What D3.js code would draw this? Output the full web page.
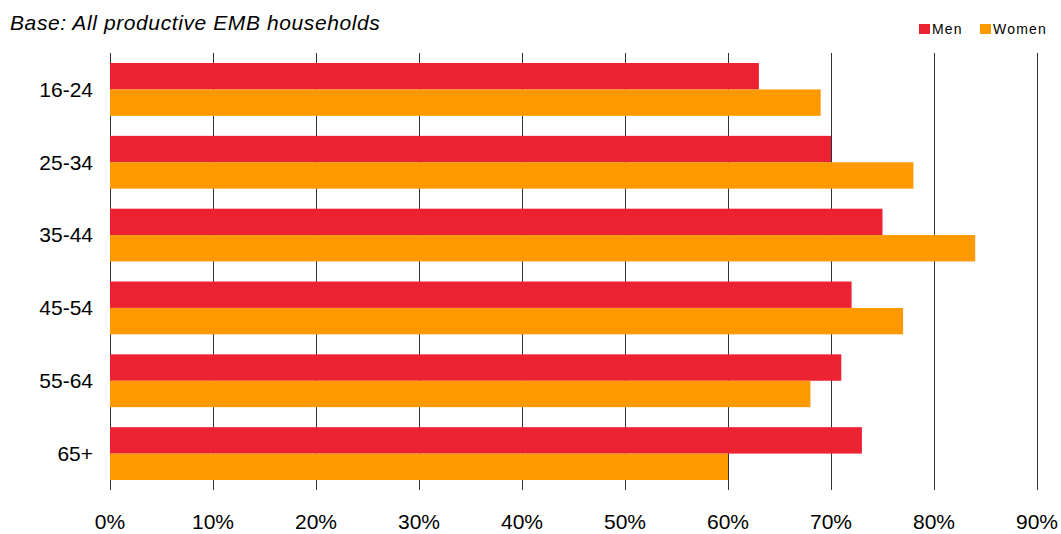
<!DOCTYPE html>
<html>
<head>
<meta charset="utf-8">
<style>
  body { margin: 0; background: #fff; }
  text { font-family: "Liberation Sans", Arial, sans-serif; fill: #000; }
</style>
</head>
<body>
<script src="https://d3js.org/d3.v7.min.js"></script>
<script>
  // data
  var ageGroups = ["16-24", "25-34", "35-44", "45-54", "55-64", "65+"];
  var menValues = [63, 70, 75, 72, 71, 73];
  var womenValues = [69, 78, 84, 77, 68, 60];
  var seriesNames = ["Men", "Women"];
  var xTicks = [0, 10, 20, 30, 40, 50, 60, 70, 80, 90];

  var colors = {"Men": "#ec2233", "Women": "#ff9900"};

  var W = 1061, H = 534;
  var margin = {top: 53, right: 24, bottom: 44, left: 110},
      width = 1037 - margin.left,
      height = 490 - margin.top;

  var svg = d3.select("body")
    .append("svg")
    .attr("width", W)
    .attr("height", H);

  var g = svg.append("g")
    .attr("transform", "translate(" + margin.left + "," + margin.top + ")");

  var x = d3.scaleLinear().domain([0, 90]).range([0, width]);

  var y0 = d3.scaleBand()
    .domain(ageGroups)
    .range([0, height])
    .paddingInner(0.275)
    .paddingOuter(0.1375);

  var y1 = d3.scaleBand()
    .domain(seriesNames)
    .range([0, y0.bandwidth()]);

  // gridlines
  g.append("g")
    .selectAll("line")
    .data(xTicks)
    .enter()
    .append("line")
      .attr("x1", function(d) { return Math.round(x(d)) + 0.5; })
      .attr("x2", function(d) { return Math.round(x(d)) + 0.5; })
      .attr("y1", 0)
      .attr("y2", height)
      .attr("stroke", "#333")
      .attr("stroke-width", 1);

  var rows = ageGroups.map(function(a, i) {
    return {age: a, vals: [
      {name: "Men", v: menValues[i]},
      {name: "Women", v: womenValues[i]}
    ]};
  });

  var groups = g.append("g")
    .selectAll("g")
    .data(rows)
    .enter()
    .append("g")
      .attr("transform", function(d) { return "translate(0," + y0(d.age) + ")"; });

  groups.selectAll("rect")
    .data(function(d) { return d.vals; })
    .enter()
    .append("rect")
      .attr("x", 0)
      .attr("y", function(d) { return y1(d.name); })
      .attr("width", function(d) { return x(d.v); })
      .attr("height", y1.bandwidth())
      .attr("fill", function(d) { return colors[d.name]; });

  // category labels
  g.append("g")
    .selectAll("text")
    .data(ageGroups)
    .enter()
    .append("text")
      .attr("x", -17)
      .attr("y", function(d) { return y0(d) + y0.bandwidth() / 2; })
      .attr("dy", "0.35em")
      .attr("text-anchor", "end")
      .style("font-size", "21px")
      .text(function(d) { return d; });

  // x tick labels
  g.append("g")
    .selectAll("text")
    .data(xTicks)
    .enter()
    .append("text")
      .attr("x", function(d) { return x(d); })
      .attr("y", height + 39)
      .attr("text-anchor", "middle")
      .style("font-size", "21px")
      .text(function(d) { return d + "%"; });

  // title
  svg.append("text")
    .attr("x", 10)
    .attr("y", 30)
    .style("font-size", "21px")
    .style("letter-spacing", "0.6px")
    .style("font-style", "italic")
    .text("Base: All productive EMB households");

  // legend
  var legend = svg.append("g");
  var legendX = [919, 980];
  seriesNames.forEach(function(s, i) {
    legend.append("rect")
      .attr("x", legendX[i])
      .attr("y", 24)
      .attr("width", 11)
      .attr("height", 10)
      .attr("fill", colors[s]);
    legend.append("text")
      .attr("x", legendX[i] + 13)
      .attr("y", 34)
      .style("font-size", "14px")
      .style("letter-spacing", "1.2px")
      .text(s);
  });
</script>
</body>
</html>
